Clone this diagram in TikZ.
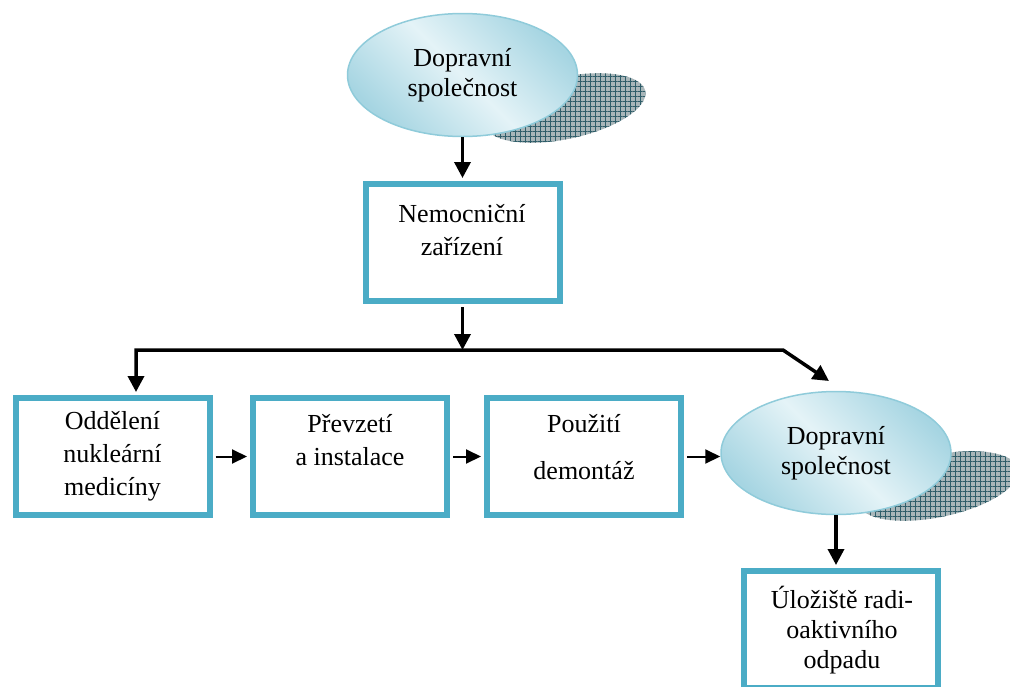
\documentclass[tikz,border=0pt]{standalone}
\usepackage{fontspec}
\setmainfont{Liberation Serif}
\usetikzlibrary{arrows.meta,patterns.meta,shapes.geometric}
\definecolor{boxblue}{HTML}{4BACC6}
\definecolor{ellline}{HTML}{8FCBDA}
\definecolor{ellout}{HTML}{A6D5E2}
\definecolor{ellin}{HTML}{E4F3F7}
\definecolor{shadegray}{HTML}{A9B6B9}
\definecolor{hatchcol}{HTML}{2F5D69}

\begin{document}
\begin{tikzpicture}[x=1pt,y=-1pt,
  stepbox/.style={draw=boxblue,line width=6pt,minimum width=194pt,minimum height=117pt,inner sep=0pt},
  oval/.style={ellipse,draw=ellline,line width=1.5pt,minimum width=230pt,minimum height=123pt,inner sep=0pt,
    top color=ellout,bottom color=ellout,middle color=ellin,shading angle=-45,
    font=\fontsize{26}{29.5}\selectfont,align=center},
  lbl/.style={font=\fontsize{26}{33}\selectfont,align=center,inner sep=0pt},
  link/.style={line width=3.5pt,-{Triangle[length=16pt,width=16pt]}},
  thinlink/.style={line width=2pt,-{Triangle[length=15pt,width=14pt]}},
  shadowfill/.style={fill=shadegray},
  shadowhatch/.style={pattern={Hatch[angle=0,distance=5pt,line width=0.7pt]},pattern color=hatchcol}]

\useasboundingbox (0,0) rectangle (1010,686);

% perspective shadows behind the two ovals
\foreach \cx/\cy in {565/108, 938/486}{
  \fill[shadowfill, rotate around={12:(\cx,\cy)}] (\cx,\cy) ellipse [x radius=82, y radius=31];
  \fill[shadowhatch, rotate around={12:(\cx,\cy)}] (\cx,\cy) ellipse [x radius=82, y radius=31];
}

% ovals
\node[oval] (dop1) at (462.5,75) {Dopravní\\společnost};
\node[oval] (dop2) at (836,453) {Dopravní\\společnost};

% boxes
\node[stepbox] (nem) at (462.5,242.5) {};
\node[lbl] (nemt) at (462,230) {Nemocniční\\zařízení};

\node[stepbox] (b1) at (112.5,456.5) {};
\node[lbl] (b1t) at (112.5,456) {Oddělení\\nukleární\\medicíny};

\node[stepbox] (b2) at (350,456.5) {};
\node[lbl] (b2t) at (350,440) {Převzetí\\a instalace};

\node[stepbox] (b3) at (584,456.5) {};
\node[lbl] (b3t) at (584,447) {Použití\\[14pt]demontáž};

\node[stepbox] (store) at (840.5,629.5) {};
\node[lbl,font=\fontsize{26}{30}\selectfont] (storet) at (842,630) {Úložiště radi-\\oaktivního\\odpadu};

% branch points of the distribution line
\coordinate (jm) at (462.5,350);
\coordinate (jl) at (136,350);
\coordinate (jr) at (783,350);
\coordinate (tipR) at (829,381);

% connectors
\draw[link,shorten >=3pt] (dop1.south) -- (nem.north);
\draw[link] (nem.south) ++(0,3) -- (jm);
\draw[line width=3.5pt,{Triangle[length=16pt,width=16pt]}-{Triangle[length=16pt,width=16pt]},shorten <=3pt]
  (jl |- b1.north) -- (jl) -- (jr) -- (tipR);
\draw[thinlink,shorten <=3pt,shorten >=3pt] (b1.east) -- (b2.west);
\draw[thinlink,shorten <=3pt,shorten >=3pt] (b2.east) -- (b3.west);
\draw[thinlink,shorten <=3pt] (b3.east) -- (b3.east -| dop2.west);
\draw[link,shorten >=3pt] (dop2.south) -- (dop2.south |- store.north);
\end{tikzpicture}
\end{document}
